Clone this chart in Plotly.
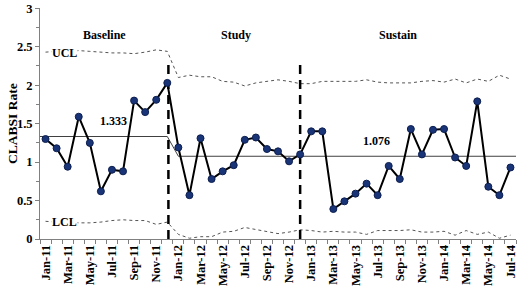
import plotly.graph_objects as go

months = ["Jan-11","Feb-11","Mar-11","Apr-11","May-11","Jun-11","Jul-11","Aug-11","Sep-11","Oct-11","Nov-11","Dec-11",
          "Jan-12","Feb-12","Mar-12","Apr-12","May-12","Jun-12","Jul-12","Aug-12","Sep-12","Oct-12","Nov-12","Dec-12",
          "Jan-13","Feb-13","Mar-13","Apr-13","May-13","Jun-13","Jul-13","Aug-13","Sep-13","Oct-13","Nov-13","Dec-13",
          "Jan-14","Feb-14","Mar-14","Apr-14","May-14","Jun-14","Jul-14"]

clabsi_rate = [1.30, 1.18, 0.94, 1.59, 1.25, 0.62, 0.90, 0.88, 1.80, 1.65, 1.81, 2.03,
               1.19, 0.57, 1.31, 0.78, 0.88, 0.96, 1.29, 1.32, 1.17, 1.14, 1.01, 1.10,
               1.40, 1.40, 0.39, 0.49, 0.59, 0.72, 0.57, 0.95, 0.78, 1.43, 1.10, 1.42,
               1.43, 1.06, 0.95, 1.79, 0.68, 0.57, 0.93]

ucl = [2.43, 2.44, 2.44, 2.45, 2.44, 2.43, 2.42, 2.42, 2.41, 2.43, 2.46, 2.44,
       2.10, 2.13, 2.11, 2.11, 2.05, 2.04, 1.99, 2.03, 2.05, 2.07, 2.05, 2.02,
       2.02, 2.05, 2.05, 2.05, 2.05, 2.07, 2.04, 2.03, 2.03, 2.03, 2.05, 2.06,
       2.04, 2.08, 2.03, 2.08, 2.05, 2.13, 2.08]

lcl = [0.23, 0.22, 0.22, 0.21, 0.21, 0.22, 0.24, 0.25, 0.24, 0.24, 0.19, 0.22,
       0.06, 0.01, 0.03, 0.03, 0.09, 0.10, 0.15, 0.12, 0.09, 0.07, 0.09, 0.12,
       0.11, 0.09, 0.10, 0.09, 0.09, 0.06, 0.11, 0.11, 0.11, 0.12, 0.09, 0.09,
       0.10, 0.05, 0.11, 0.06, 0.09, 0.01, 0.05]

baseline_mean = 1.333
post_mean = 1.076
baseline_end = 11          # index of Dec-11
study_end = 23             # index of Dec-12
phase_names = ["Baseline", "Study", "Sustain"]
phase_label_x = [5.3, 17.2, 31.8]
phase_label_y = 2.65
y_ticks = [0, 0.5, 1, 1.5, 2, 2.5, 3]

FONT = "Liberation Serif"
n = len(months)
x = list(range(n))

fig = go.Figure()

# control limits
fig.add_trace(go.Scatter(x=x, y=ucl, mode="lines",
                         line=dict(color="#555555", width=1, dash="dot"), hoverinfo="skip"))
fig.add_trace(go.Scatter(x=x, y=lcl, mode="lines",
                         line=dict(color="#555555", width=1, dash="dot"), hoverinfo="skip"))

# centre line
fig.add_trace(go.Scatter(x=[-0.5, baseline_end, baseline_end + 1, n - 0.5],
                         y=[baseline_mean, baseline_mean, post_mean, post_mean],
                         mode="lines", line=dict(color="#404040", width=1), hoverinfo="skip"))

# phase dividers
for xv, top in [(baseline_end + 0.1, 2.34), (study_end, 2.30)]:
    fig.add_trace(go.Scatter(x=[xv, xv], y=[0, top], mode="lines",
                             line=dict(color="black", width=2.5, dash="9px,6px"), hoverinfo="skip"))

# data
fig.add_trace(go.Scatter(x=x, y=clabsi_rate, mode="lines+markers",
                         line=dict(color="black", width=2),
                         marker=dict(size=7, color="#1A3478", line=dict(color="#0D1F4F", width=1))))

ann_font = dict(family=FONT, size=12, color="black")
annotations = []
for name, px in zip(phase_names, phase_label_x):
    annotations.append(dict(x=px, y=phase_label_y, text=f"<b>{name}</b>", showarrow=False, font=ann_font))
annotations += [
    dict(x=1.7, y=2.42, text="<b>UCL</b>", showarrow=False, font=ann_font, bgcolor="white", borderpad=0),
    dict(x=1.7, y=0.22, text="<b>LCL</b>", showarrow=False, font=ann_font, bgcolor="white", borderpad=0),
    dict(x=6.1, y=1.54, text=f"<b>{baseline_mean:.3f}</b>", showarrow=False, font=ann_font),
    dict(x=29.9, y=1.27, text=f"<b>{post_mean:.3f}</b>", showarrow=False, font=ann_font),
    dict(x=-0.058, y=0.5, xref="paper", yref="paper", xanchor="center", yanchor="middle",
         text="<b>CLABSI Rate</b>", textangle=-90, showarrow=False,
         font=dict(family=FONT, size=13.5, color="black")),
]

fig.update_layout(
    width=520, height=288,
    margin=dict(l=40, r=2, t=5, b=49),
    paper_bgcolor="white", plot_bgcolor="white",
    showlegend=False,
    font=dict(family=FONT, size=12, color="black"),
    annotations=annotations,
    xaxis=dict(range=[-0.5, n - 0.5], tickmode="array", tickvals=x[::2],
               ticktext=[f"<b>{m}</b>" for m in months[::2]], tickangle=-90,
               tickfont=dict(family=FONT, size=12.5, color="black"), ticks="", showgrid=False,
               zeroline=False, showline=True, linecolor="#808080", linewidth=1,
               minor=dict(tick0=-0.5, dtick=1, ticks="outside", ticklen=4, tickcolor="#808080")),
    yaxis=dict(range=[0, 3.004], tickmode="array", tickvals=y_ticks,
               ticktext=[f"<b>{v:g}</b>" for v in y_ticks], ticklabeloverflow="allow",
               tickfont=dict(family=FONT, size=12.5, color="black"), ticks="outside", ticklen=4,
               tickcolor="#808080", showgrid=False, zeroline=False, showline=True,
               linecolor="#808080", linewidth=1,
               minor=dict(tick0=0, dtick=0.25, ticks="outside", ticklen=3, tickcolor="#808080")),
)

fig.write_html("out.html", config={"displayModeBar": False},
               post_script="document.body.style.margin='0';document.body.style.padding='0';")
